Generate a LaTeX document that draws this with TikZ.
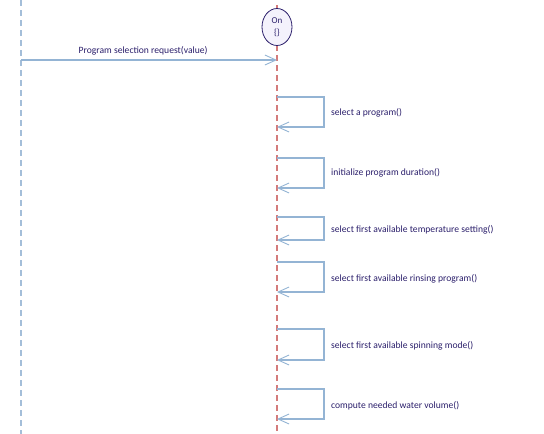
\documentclass[tikz,border=0pt]{standalone}
\usepackage{fontspec}
\setmainfont{Carlito}
\usetikzlibrary{arrows.meta, positioning, shapes.geometric}
\definecolor{sqInk}{HTML}{2B1F6B}
\definecolor{sqMsg}{HTML}{94B4D4}
\definecolor{sqLife}{HTML}{A4BED9}
\definecolor{sqState}{HTML}{D47B7B}
\definecolor{sqFill}{HTML}{F4F2FC}
\tikzset{
  lifeline/.style={line width=1.6pt, draw=sqLife, dash pattern=on 6pt off 4pt},
  statelife/.style={lifeline, draw=sqState},
  state/.style={
    ellipse, draw=sqInk, line width=0.8pt, fill=sqFill,
    minimum width=30pt, minimum height=37pt, inner sep=0pt,
    align=center, font=\fontsize{9}{12}\selectfont, text=sqInk
  },
  msg/.style={-{Straight Barb[length=11pt, width=10pt, line width=0.9pt]},
    line width=1.3pt, draw=sqMsg},
  lbl/.style={font=\fontsize{9.6}{11}\selectfont, text=sqInk, inner sep=1pt},
}

\begin{document}
\begin{tikzpicture}[x=1pt, y=-1pt]
  \useasboundingbox (0,0) rectangle (544,434);

  % lifelines
  \coordinate (utop) at (21,0);
  \coordinate (ubot) at (21,434);
  \coordinate (ltop) at (277,5);
  \coordinate (lbot) at (277,434);
  \draw[lifeline]  (utop) -- (ubot);
  \draw[statelife] (ltop) -- (lbot);

  \node[state] (on) at (277,27) {On\\\{\}};

  % incoming request
  \coordinate (req) at (21,60);
  \coordinate (reqend) at (277,60);
  \draw[msg] (req) -- (reqend)
    node[lbl, pos=0.477, above=3pt] {Program selection request(value)};

  % self calls
  \coordinate (c1a) at (277,97);  \coordinate (c1b) at (277,127);
  \coordinate (c2a) at (277,158); \coordinate (c2b) at (277,188);
  \coordinate (c3a) at (277,217); \coordinate (c3b) at (277,240);
  \coordinate (c4a) at (277,262); \coordinate (c4b) at (277,292);
  \coordinate (c5a) at (277,329); \coordinate (c5b) at (277,360);
  \coordinate (c6a) at (277,389); \coordinate (c6b) at (277,419);

  \draw[msg] (c1a) -- ++(47,0) |- (c1b);
  \draw[msg] (c2a) -- ++(47,0) |- (c2b);
  \draw[msg] (c3a) -- ++(47,0) |- (c3b);
  \draw[msg] (c4a) -- ++(47,0) |- (c4b);
  \draw[msg] (c5a) -- ++(47,0) |- (c5b);
  \draw[msg] (c6a) -- ++(47,0) |- (c6b);

  \node[lbl, anchor=west] (l1) at (330,113) {select a program()};
  \node[lbl, anchor=west] (l2) at (330,173) {initialize program duration()};
  \node[lbl, anchor=west] (l3) at (330,230) {select first available temperature setting()};
  \node[lbl, anchor=west] (l4) at (330,279) {select first available rinsing program()};
  \node[lbl, anchor=west] (l5) at (330,346) {select first available spinning mode()};
  \node[lbl, anchor=west] (l6) at (330,406) {compute needed water volume()};
\end{tikzpicture}
\end{document}
